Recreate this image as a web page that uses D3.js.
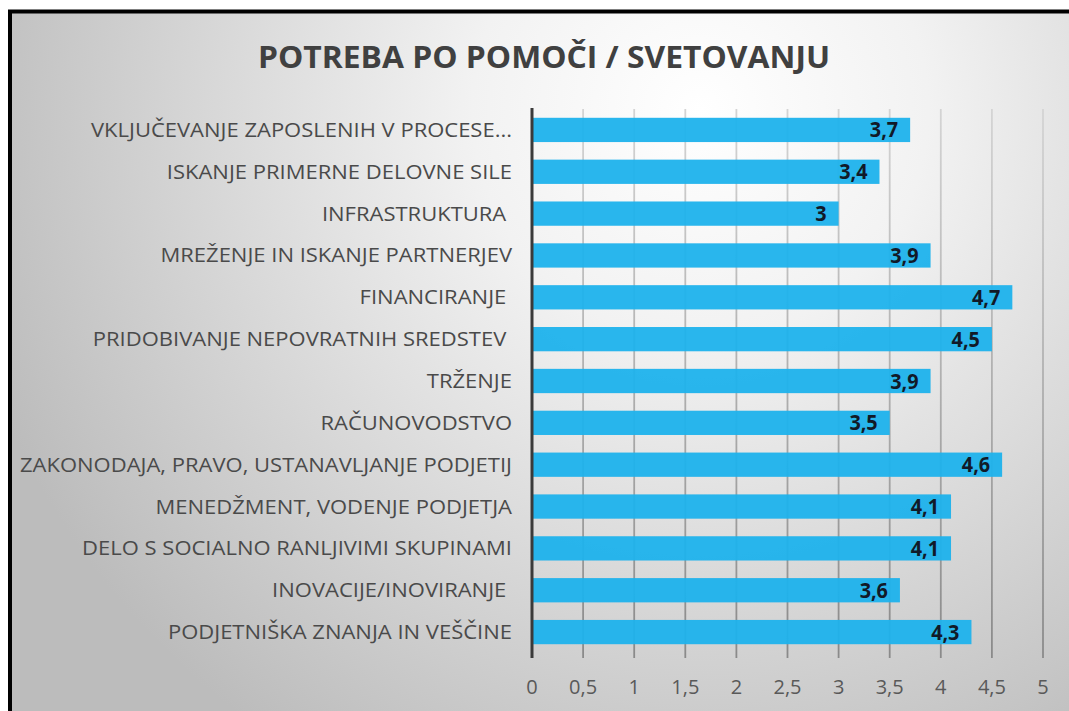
<!DOCTYPE html>
<html><head><meta charset="utf-8">
<script src="https://cdn.jsdelivr.net/npm/d3@7"></script>
<style>html,body{margin:0;padding:0;background:#fff;overflow:hidden}</style>
</head><body>
<svg id="c" width="1069" height="711"></svg>
<script>
const categories = [
  "VKLJUČEVANJE ZAPOSLENIH V PROCESE...",
  "ISKANJE PRIMERNE DELOVNE SILE",
  "INFRASTRUKTURA ",
  "MREŽENJE IN ISKANJE PARTNERJEV",
  "FINANCIRANJE ",
  "PRIDOBIVANJE NEPOVRATNIH SREDSTEV ",
  "TRŽENJE",
  "RAČUNOVODSTVO",
  "ZAKONODAJA, PRAVO, USTANAVLJANJE PODJETIJ",
  "MENEDŽMENT, VODENJE PODJETJA",
  "DELO S SOCIALNO RANLJIVIMI SKUPINAMI",
  "INOVACIJE/INOVIRANJE ",
  "PODJETNIŠKA ZNANJA IN VEŠČINE"
];
const values = [3.7, 3.4, 3, 3.9, 4.7, 4.5, 3.9, 3.5, 4.6, 4.1, 4.1, 3.6, 4.3];
const ticks = [0, 0.5, 1, 1.5, 2, 2.5, 3, 3.5, 4, 4.5, 5];
const title = "POTREBA PO POMOČI / SVETOVANJU";

const fmt = v => String(v).replace(".", ",");
const svg = d3.select("#c");
const defs = svg.append("defs");
const rg = defs.append("radialGradient").attr("id","bg")
  .attr("gradientUnits","userSpaceOnUse")
  .attr("cx",700).attr("cy",110).attr("r",760);
rg.append("stop").attr("offset","0").attr("stop-color","#ffffff");
rg.append("stop").attr("offset","0.3").attr("stop-color","#f2f2f2");
rg.append("stop").attr("offset","1").attr("stop-color","#bcbcbc");

svg.append("rect").attr("x",10).attr("y",11.5).attr("width",1100).attr("height",800)
  .attr("fill","url(#bg)").attr("stroke","#000").attr("stroke-width",4);

const x = d3.scaleLinear().domain([0,5]).range([532,1043]);
const y = d3.scaleBand().domain(categories).range([109,653]).paddingInner(0.42).paddingOuter(0.21);

const lg = defs.append("linearGradient").attr("id","gl").attr("gradientUnits","userSpaceOnUse")
  .attr("x1",0).attr("y1",109).attr("x2",0).attr("y2",658);
lg.append("stop").attr("offset","0").attr("stop-color","#d4d4d4");
lg.append("stop").attr("offset","1").attr("stop-color","#8a8a8a");

// gridlines
svg.append("g").selectAll("line").data(ticks.slice(1)).join("line")
  .attr("x1",d=>x(d)).attr("x2",d=>x(d)).attr("y1",109).attr("y2",658)
  .attr("stroke","url(#gl)").attr("stroke-width",1.8);

// bars
svg.append("g").selectAll("rect").data(values).join("rect")
  .attr("x",x(0)).attr("y",(d,i)=>y(categories[i]))
  .attr("width",d=>x(d)-x(0)).attr("height",y.bandwidth())
  .attr("fill","#1db2ec").attr("fill-opacity",0.95);

// axis line
svg.append("line").attr("x1",x(0)).attr("x2",x(0)).attr("y1",108).attr("y2",658)
  .attr("stroke","#3a3a3a").attr("stroke-width",3);

const FONT = "'Open Sans', sans-serif";

// data labels
const dl = svg.append("g").selectAll("text").data(values).join("text")
  .attr("x",d=>x(d)-12).attr("y",(d,i)=>y(categories[i])+y.bandwidth()/2+7.5)
  .attr("text-anchor","end").attr("font-family",FONT)
  .attr("font-weight","bold").attr("font-size",22).attr("fill","#111a28")
  .text(d=>fmt(d));
dl.each(function(){ const w=this.getComputedTextLength(); d3.select(this).attr("textLength",w*0.9).attr("lengthAdjust","spacingAndGlyphs"); });

// category labels
const cl = svg.append("g").selectAll("text").data(categories).join("text")
  .attr("x",512).attr("y",d=>y(d)+y.bandwidth()/2+7)
  .attr("text-anchor","end").attr("font-family",FONT)
  .attr("font-size",19.5).attr("fill","#4a4a4a")
  .style("white-space","pre").attr("xml:space","preserve")
  .text(d=>d);
const longest = cl.filter(d=>d.startsWith("ZAKONODAJA")).node().getComputedTextLength();
const ratio = 492/longest;
cl.each(function(){ const w=this.getComputedTextLength(); d3.select(this).attr("textLength",w*ratio).attr("lengthAdjust","spacingAndGlyphs"); });

// tick labels
svg.append("g").selectAll("text").data(ticks).join("text")
  .attr("x",d=>x(d)).attr("y",694).attr("text-anchor","middle")
  .attr("font-family",FONT).attr("font-size",20).attr("fill","#595959")
  .text(d=>fmt(d));

// title
const t = svg.append("text").attr("x",544).attr("y",68).attr("text-anchor","middle")
  .attr("font-family",FONT).attr("font-weight","bold")
  .attr("font-size",31).attr("fill","#404040").text(title);
t.attr("textLength",572).attr("lengthAdjust","spacingAndGlyphs");
</script>
</body></html>
